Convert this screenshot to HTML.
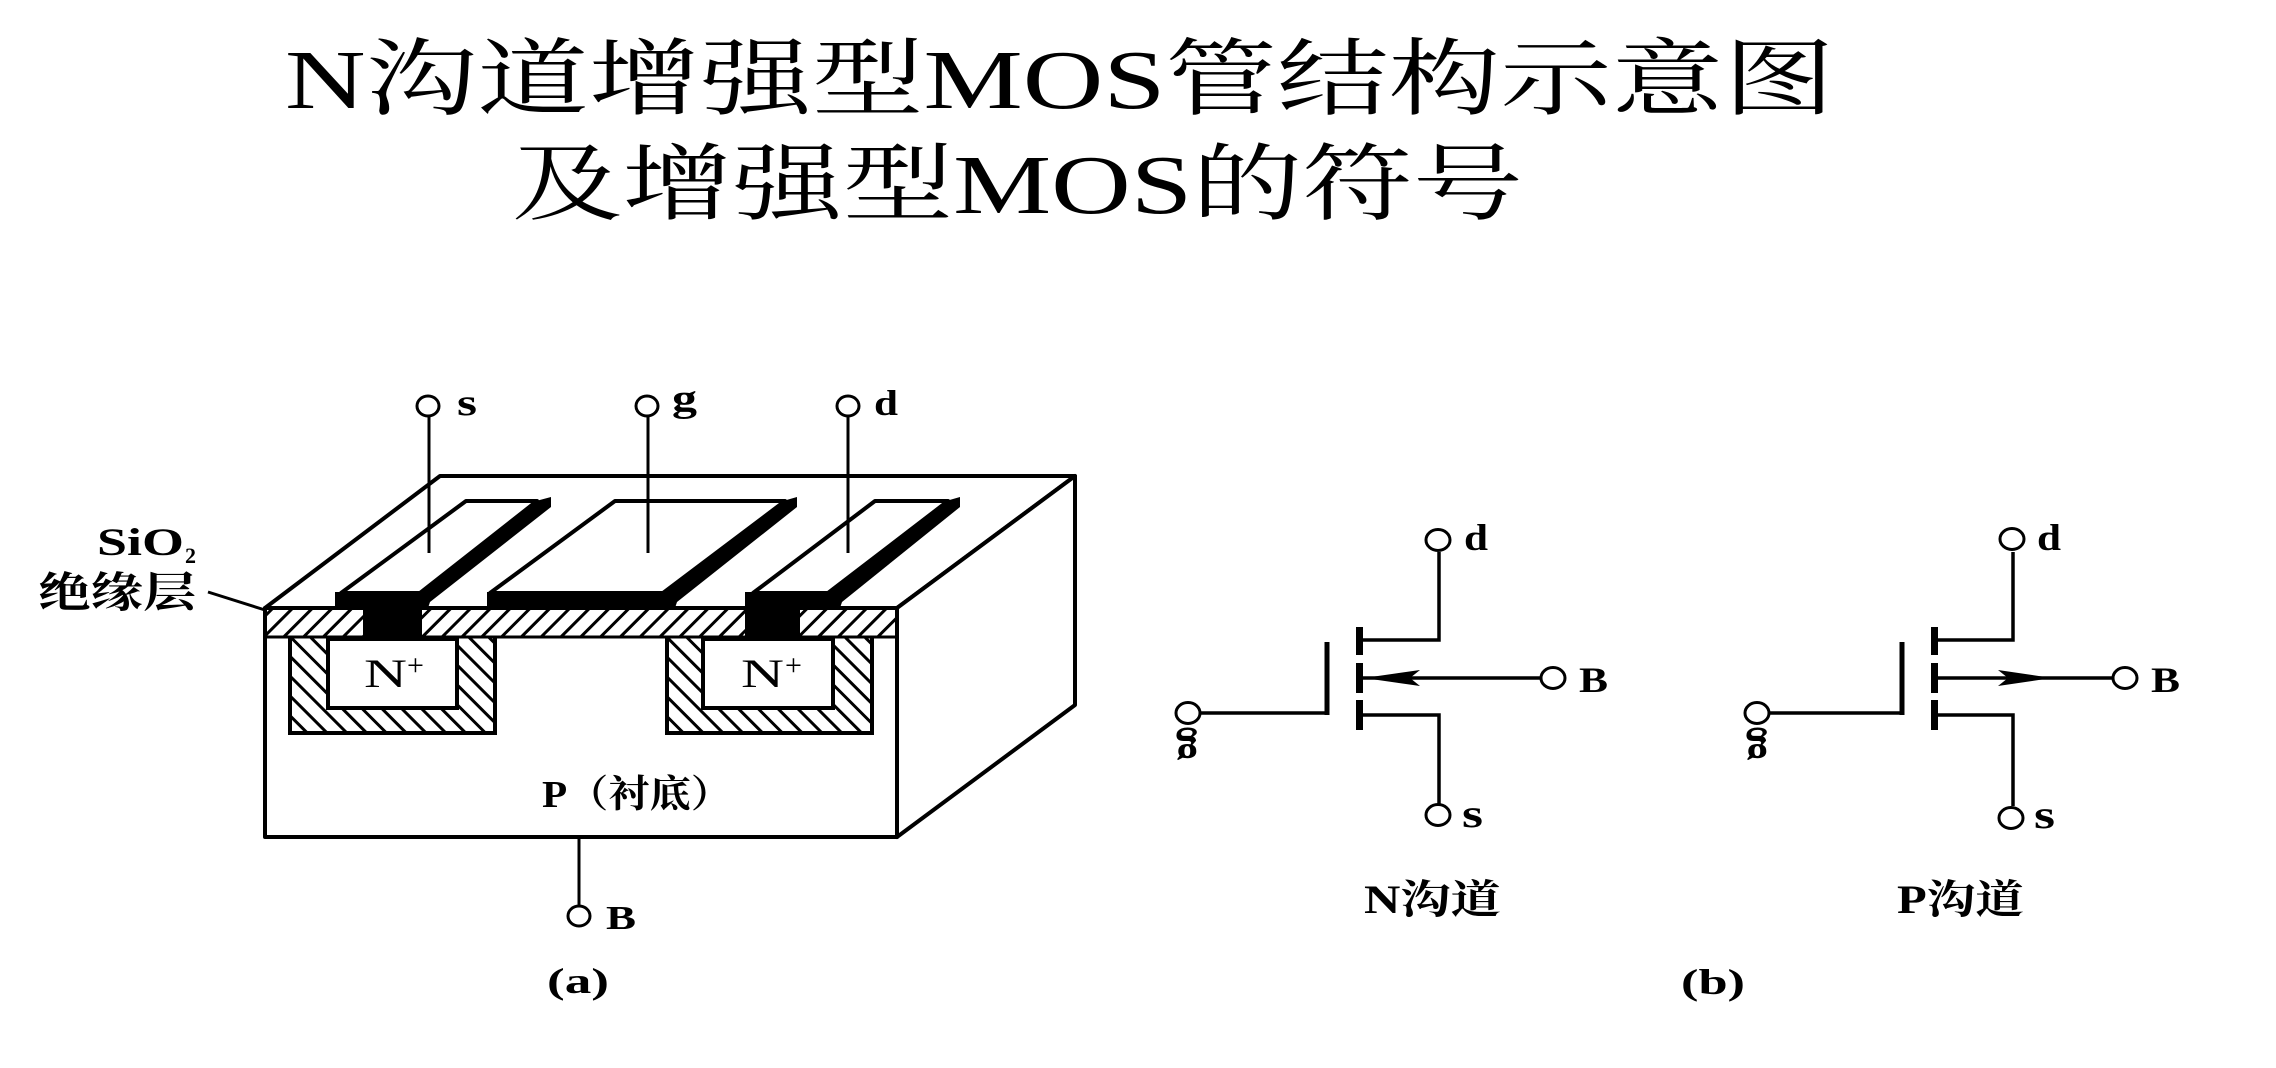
<!DOCTYPE html>
<html>
<head>
<meta charset="utf-8">
<style>
  html,body{margin:0;padding:0;background:#fff;}
  svg{display:block;}
  .t{font-family:"Liberation Serif","Noto Serif CJK SC",serif;fill:#000;}
  .b{font-family:"Liberation Serif","Noto Serif CJK SC",serif;font-weight:bold;fill:#000;}
</style>
</head>
<body>
<svg width="2276" height="1068" viewBox="0 0 2276 1068" xmlns="http://www.w3.org/2000/svg">
  <defs>
    <pattern id="h1" patternUnits="userSpaceOnUse" width="14" height="14" patternTransform="rotate(45)">
      <line x1="7" y1="-2" x2="7" y2="16" stroke="#000" stroke-width="3"/>
    </pattern>
    <pattern id="h2" patternUnits="userSpaceOnUse" width="14" height="14" patternTransform="rotate(-45)">
      <line x1="7" y1="-2" x2="7" y2="16" stroke="#000" stroke-width="3"/>
    </pattern>
  </defs>
  <rect width="2276" height="1068" fill="#fff"/>

  <!-- Title -->
  <text class="t" x="285" y="108" font-size="84" textLength="1550" lengthAdjust="spacingAndGlyphs">N沟道增强型MOS管结构示意图</text>
  <text class="t" x="512" y="213" font-size="84" textLength="1011" lengthAdjust="spacingAndGlyphs">及增强型MOS的符号</text>

  <!-- ===== (a) structure ===== -->
  <g stroke="#000" stroke-width="4" stroke-linejoin="round" fill="#fff">
    <polygon points="265,608 440,476 1075,476 897,608"/>
    <polygon points="897,608 1075,476 1075,705 897,837"/>
    <rect x="265" y="608" width="632" height="229"/>
  </g>
  <!-- oxide -->
  <rect x="265" y="608" width="632" height="29" fill="url(#h1)"/>
  <line x1="265" y1="637" x2="897" y2="637" stroke="#000" stroke-width="3"/>
  <line x1="265" y1="608" x2="897" y2="608" stroke="#000" stroke-width="4"/>

  <!-- wells -->
  <rect x="290" y="637" width="205" height="96" fill="url(#h2)"/>
  <path d="M290,637 V733 H495 V637" fill="none" stroke="#000" stroke-width="4"/>
  <rect x="328" y="639" width="129" height="69" fill="#fff" stroke="#000" stroke-width="4"/>
  <rect x="667" y="637" width="205" height="96" fill="url(#h2)"/>
  <path d="M667,637 V733 H872 V637" fill="none" stroke="#000" stroke-width="4"/>
  <rect x="703" y="639" width="130" height="69" fill="#fff" stroke="#000" stroke-width="4"/>

  <!-- contacts through oxide -->
  <rect x="363" y="606" width="59" height="32" fill="#000"/>
  <rect x="745" y="606" width="55" height="32" fill="#000"/>

  <!-- source electrode -->
  <rect x="335" y="592" width="93" height="16" fill="#000"/>
  <polygon points="418,595 536,501 551,497 551,507 430,602 428,608 418,608" fill="#000"/>
  <polygon points="341,593 466,501 537,501 420,593" fill="#fff" stroke="#000" stroke-width="4" stroke-linejoin="round"/>
  <!-- gate electrode -->
  <rect x="487" y="592" width="188" height="16" fill="#000"/>
  <polygon points="661,595 783,501 797,497 797,507 677,602 675,608 661,608" fill="#000"/>
  <polygon points="490,593 615,501 785,501 663,593" fill="#fff" stroke="#000" stroke-width="4" stroke-linejoin="round"/>
  <!-- drain electrode -->
  <rect x="745" y="592" width="95" height="16" fill="#000"/>
  <polygon points="826,595 946,501 960,497 960,507 842,602 840,608 826,608" fill="#000"/>
  <polygon points="753,593 875,501 948,501 828,593" fill="#fff" stroke="#000" stroke-width="4" stroke-linejoin="round"/>

  <!-- terminals (a) -->
  <g stroke="#000" stroke-width="3" fill="none">
    <line x1="429" y1="416" x2="429" y2="553"/>
    <line x1="648" y1="416" x2="648" y2="553"/>
    <line x1="848" y1="416" x2="848" y2="553"/>
    <line x1="579" y1="837" x2="579" y2="905"/>
    <line x1="208" y1="592" x2="265" y2="610"/>
  </g>
  <g stroke="#000" stroke-width="3" fill="#fff">
    <ellipse cx="428" cy="406" rx="11" ry="10"/>
    <ellipse cx="647" cy="406" rx="11" ry="10"/>
    <ellipse cx="848" cy="406" rx="11" ry="10"/>
    <ellipse cx="579" cy="916" rx="11" ry="10"/>
  </g>

  <!-- labels (a) -->
  <text class="b" x="457" y="415" font-size="38" textLength="20" lengthAdjust="spacingAndGlyphs">s</text>
  <text class="b" x="672" y="411" font-size="38" textLength="25" lengthAdjust="spacingAndGlyphs">g</text>
  <text class="b" x="874" y="415" font-size="36" textLength="24" lengthAdjust="spacingAndGlyphs">d</text>
  <text class="b" x="606" y="929" font-size="34" textLength="30" lengthAdjust="spacingAndGlyphs">B</text>
  <text class="b" x="547" y="993" font-size="36" textLength="62" lengthAdjust="spacingAndGlyphs">(a)</text>

  <text class="t" x="364" y="687" font-size="40" textLength="43" lengthAdjust="spacingAndGlyphs">N</text>
  <text class="t" x="407" y="675" font-size="30">+</text>
  <text class="t" x="741" y="687" font-size="40" textLength="43" lengthAdjust="spacingAndGlyphs">N</text>
  <text class="t" x="785" y="675" font-size="30">+</text>

  <text class="b" x="542" y="807" font-size="38" textLength="190" lengthAdjust="spacingAndGlyphs">P（衬底）</text>

  <text class="b" x="97" y="555" font-size="39" textLength="87" lengthAdjust="spacingAndGlyphs">SiO</text>
  <text class="b" x="185" y="563" font-size="22">2</text>
  <text class="b" x="38" y="607" font-size="42" textLength="158" lengthAdjust="spacingAndGlyphs">绝缘层</text>

  <!-- ===== (b) N channel ===== -->
  <g stroke="#000" stroke-width="3.5" fill="none">
    <polyline points="1439,552 1439,640 1362,640"/>
    <polyline points="1362,715 1439,715 1439,804"/>
    <line x1="1362" y1="678" x2="1542" y2="678"/>
    <polyline points="1327,642 1327,713 1200,713"/>
  </g>
  <line x1="1327" y1="642" x2="1327" y2="715" stroke="#000" stroke-width="5"/>
  <g fill="#000">
    <rect x="1356" y="627" width="7" height="28"/>
    <rect x="1356" y="663" width="7" height="30"/>
    <rect x="1356" y="700" width="7" height="30"/>
    <polygon points="1364,678 1420,670 1410,678 1420,686"/>
  </g>
  <g stroke="#000" stroke-width="3" fill="#fff">
    <ellipse cx="1438" cy="540" rx="12" ry="10.5"/>
    <ellipse cx="1438" cy="815" rx="12" ry="10.5"/>
    <ellipse cx="1553" cy="678" rx="12" ry="10.5"/>
    <ellipse cx="1188" cy="713" rx="12" ry="10.5"/>
  </g>
  <text class="b" x="1464" y="550" font-size="37" textLength="24" lengthAdjust="spacingAndGlyphs">d</text>
  <text class="b" x="1579" y="692" font-size="36" textLength="29" lengthAdjust="spacingAndGlyphs">B</text>
  <text class="b" x="1462" y="827" font-size="40" textLength="21" lengthAdjust="spacingAndGlyphs">s</text>
  <text class="b" font-size="44" text-anchor="middle" transform="translate(1187,737) rotate(180)">g</text>
  <text class="b" x="1364" y="913" font-size="40" textLength="137" lengthAdjust="spacingAndGlyphs">N沟道</text>

  <!-- ===== (b) P channel ===== -->
  <g stroke="#000" stroke-width="3.5" fill="none">
    <polyline points="2013,552 2013,640 1937,640"/>
    <polyline points="1937,715 2013,715 2013,806"/>
    <line x1="1937" y1="678" x2="2114" y2="678"/>
    <polyline points="1902,642 1902,713 1769,713"/>
  </g>
  <line x1="1902" y1="642" x2="1902" y2="715" stroke="#000" stroke-width="5"/>
  <g fill="#000">
    <rect x="1931" y="627" width="7" height="28"/>
    <rect x="1931" y="663" width="7" height="30"/>
    <rect x="1931" y="700" width="7" height="30"/>
    <polygon points="2052,678 1998,670 2008,678 1998,686"/>
  </g>
  <g stroke="#000" stroke-width="3" fill="#fff">
    <ellipse cx="2012" cy="539" rx="12" ry="10.5"/>
    <ellipse cx="2011" cy="818" rx="12" ry="10.5"/>
    <ellipse cx="2125" cy="678" rx="12" ry="10.5"/>
    <ellipse cx="1757" cy="713" rx="12" ry="10.5"/>
  </g>
  <text class="b" x="2037" y="550" font-size="37" textLength="24" lengthAdjust="spacingAndGlyphs">d</text>
  <text class="b" x="2151" y="692" font-size="36" textLength="29" lengthAdjust="spacingAndGlyphs">B</text>
  <text class="b" x="2034" y="828" font-size="40" textLength="21" lengthAdjust="spacingAndGlyphs">s</text>
  <text class="b" font-size="44" text-anchor="middle" transform="translate(1757,737) rotate(180)">g</text>
  <text class="b" x="1897" y="913" font-size="40" textLength="127" lengthAdjust="spacingAndGlyphs">P沟道</text>

  <text class="b" x="1681" y="994" font-size="36" textLength="64" lengthAdjust="spacingAndGlyphs">(b)</text>
</svg>
</body>
</html>
